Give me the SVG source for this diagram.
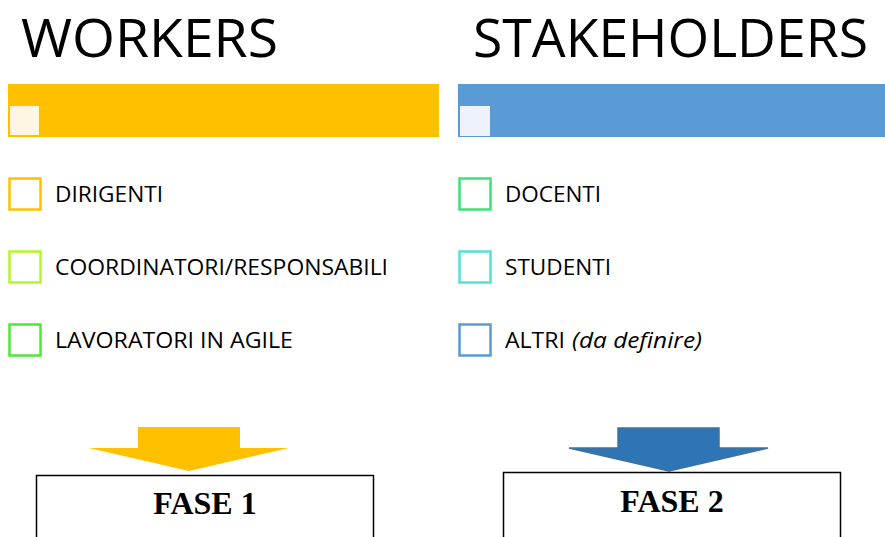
<svg xmlns="http://www.w3.org/2000/svg" width="885" height="537" viewBox="0 0 885 537">
<style>
.title{font-family:"Open Sans","DejaVu Sans",sans-serif;font-size:53px;fill:#000}
.item{font-family:"Open Sans","DejaVu Sans",sans-serif;font-size:22.5px;fill:#000}
.cb{fill:#fff;stroke-width:2.5}
.fase{font-family:"Liberation Serif","Times New Roman",serif;font-size:32px;font-weight:bold;fill:#000}
.box{fill:#fff;stroke:#000;stroke-width:1.5}
</style>
<rect width="885" height="537" fill="#fff"/>
<g id="workers">
<text class="title" x="21" y="57" textLength="257" lengthAdjust="spacingAndGlyphs">WORKERS</text>
<rect x="8" y="84" width="431" height="53" fill="#FFC000"/>
<rect x="10" y="106" width="29" height="29" fill="#FFF5E2"/>
</g>
<g id="stakeholders">
<text class="title" x="473" y="57" textLength="395" lengthAdjust="spacingAndGlyphs">STAKEHOLDERS</text>
<rect x="458" y="84" width="427" height="53" fill="#5B9BD5"/>
<rect x="460" y="106" width="30" height="30" fill="#EEF3FB"/>
</g>
<g id="dirigenti">
<rect class="cb" x="9.5" y="178.5" width="31" height="31" stroke="#FFC000"/>
<text class="item" x="55" y="202" textLength="108" lengthAdjust="spacingAndGlyphs">DIRIGENTI</text>
</g>
<g id="coordinatori">
<rect class="cb" x="9.5" y="251.5" width="31" height="31" stroke="#B4F52A"/>
<text class="item" x="55" y="275" textLength="333" lengthAdjust="spacingAndGlyphs">COORDINATORI/RESPONSABILI</text>
</g>
<g id="lavoratori">
<rect class="cb" x="9.5" y="324.5" width="31" height="31" stroke="#4FE63C"/>
<text class="item" x="55" y="348" textLength="238" lengthAdjust="spacingAndGlyphs">LAVORATORI IN AGILE</text>
</g>
<g id="docenti">
<rect class="cb" x="459.5" y="178.5" width="31" height="31" stroke="#3EE07A"/>
<text class="item" x="505" y="202" textLength="96" lengthAdjust="spacingAndGlyphs">DOCENTI</text>
</g>
<g id="studenti">
<rect class="cb" x="459.5" y="251.5" width="31" height="31" stroke="#55DFD6"/>
<text class="item" x="505" y="275" textLength="106" lengthAdjust="spacingAndGlyphs">STUDENTI</text>
</g>
<g id="altri">
<rect class="cb" x="459.5" y="324.5" width="31" height="31" stroke="#5B9BD5"/>
<text class="item" x="505" y="348" textLength="60" lengthAdjust="spacingAndGlyphs">ALTRI</text>
<text class="item" x="572" y="348" font-style="italic" textLength="130" lengthAdjust="spacingAndGlyphs">(da definire)</text>
</g>
<g id="connectors">
<polygon points="138,427 240,427 240,448 289,448 189,471 89,448 138,448" fill="#FFC000"/>
<polygon points="618,428 719,428 719,448 768,448 669,471 569,448 618,448" fill="#2E75B6" stroke="#41719C" stroke-width="1.5"/>
</g>
<g id="fase1">
<rect class="box" x="36.5" y="475.5" width="337" height="80"/>
<text class="fase" x="205" y="514" text-anchor="middle">FASE 1</text>
</g>
<g id="fase2">
<rect class="box" x="503.5" y="472.5" width="337" height="80"/>
<text class="fase" x="672" y="512" text-anchor="middle">FASE 2</text>
</g>
</svg>
